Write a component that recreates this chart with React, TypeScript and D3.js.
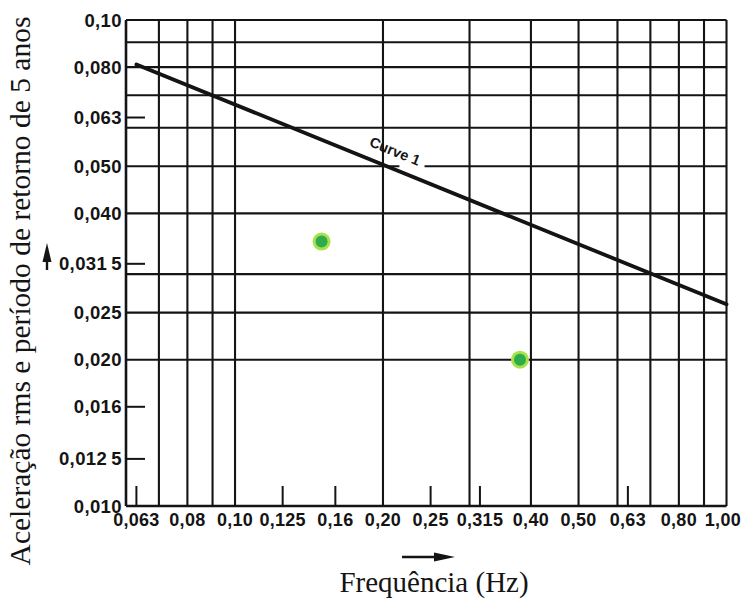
import React from "react";
import * as d3 from "d3";

// ---- data ----
const X_GRID = [0.06, 0.07, 0.08, 0.09, 0.1, 0.2, 0.3, 0.4, 0.5, 0.6, 0.7, 0.8, 0.9, 1.0];
const Y_GRID = [0.01, 0.02, 0.025, 0.03, 0.04, 0.05, 0.06, 0.07, 0.08, 0.09, 0.1];
const X_MINOR_TICKS = [0.063, 0.125, 0.16, 0.25, 0.315, 0.63];
const Y_MINOR_TICKS = [0.063, 0.0315, 0.016, 0.0125];
const X_TICK_VALUES = [0.063, 0.08, 0.1, 0.125, 0.16, 0.2, 0.25, 0.315, 0.4, 0.5, 0.63, 0.8, 1.0];
const X_TICK_LABELS = ["0,063", "0,08", "0,10", "0,125", "0,16", "0,20", "0,25", "0,315", "0,40", "0,50", "0,63", "0,80", "1,00"];
const Y_TICK_VALUES = [0.1, 0.08, 0.063, 0.05, 0.04, 0.0315, 0.025, 0.02, 0.016, 0.0125, 0.01];
const Y_TICK_LABELS = ["0,10", "0,080", "0,063", "0,050", "0,040", "0,031\u20095", "0,025", "0,020", "0,016", "0,012\u20095", "0,010"];
const CURVE_FREQ = [0.063, 1.0];
const CURVE_ACC = [0.081, 0.026];
const CURVE_LABEL = "Curve 1";
const CURVE_LABEL_FREQ = 0.2;
const POINT_FREQ = [0.15, 0.38];
const POINT_ACC = [0.035, 0.02];
const X_TITLE = "Frequência (Hz)";
const Y_TITLE = "Aceleração rms e período de retorno de 5 anos";

const W = 743;
const H = 601;
const PLOT = { left: 126, right: 726.5, top: 20, bottom: 506 };
const TICK_FONT = "'Liberation Sans', Arial, sans-serif";
const SERIF = "'Liberation Serif', 'Times New Roman', serif";
const INK = "#141414";

export default function App() {
  const x = d3.scaleLog().domain([0.06, 1.0]).range([PLOT.left, PLOT.right]);
  const y = d3.scaleLog().domain([0.01, 0.1]).range([PLOT.bottom, PLOT.top]);

  const curveData = CURVE_FREQ.map((f, i) => [f, CURVE_ACC[i]] as [number, number]);
  const line = d3
    .line<[number, number]>()
    .x((d) => x(d[0]))
    .y((d) => y(d[1]));

  // curve label placement
  const p0 = [x(CURVE_FREQ[0]), y(CURVE_ACC[0])];
  const p1 = [x(CURVE_FREQ[1]), y(CURVE_ACC[1])];
  const ang = (Math.atan2(p1[1] - p0[1], p1[0] - p0[0]) * 180) / Math.PI;
  const t = Math.log(CURVE_LABEL_FREQ / CURVE_FREQ[0]) / Math.log(CURVE_FREQ[1] / CURVE_FREQ[0]);
  const labelAcc = Math.exp(Math.log(CURVE_ACC[0]) + t * (Math.log(CURVE_ACC[1]) - Math.log(CURVE_ACC[0])));
  const lx = x(CURVE_LABEL_FREQ);
  const ly = y(labelAcc);

  const lastIdx = X_TICK_VALUES.length - 1;

  return (
    <svg
      width={W}
      height={H}
      style={{ position: "absolute", left: 0, top: 0, background: "#fff" }}
    >
      <rect width={W} height={H} fill="#fff" />
      {/* horizontal grid */}
      {Y_GRID.map((v) => (
        <line
          key={"h" + v}
          x1={PLOT.left}
          x2={PLOT.right}
          y1={y(v)}
          y2={y(v)}
          stroke={INK}
          strokeWidth={v === 0.01 ? 2.6 : 2.1}
        />
      ))}
      {/* vertical grid */}
      {X_GRID.map((v) => (
        <line
          key={"v" + v}
          x1={x(v)}
          x2={x(v)}
          y1={PLOT.top}
          y2={PLOT.bottom}
          stroke={INK}
          strokeWidth={v === 0.06 ? 2.6 : 2.1}
        />
      ))}
      {/* small gap in grid near label */}
      <rect x={x(0.216)} width={x(0.243) - x(0.216)} y={y(0.05) - 2} height={4} fill="#fff" />
      {/* minor ticks */}
      {X_MINOR_TICKS.map((v) => (
        <line key={"xt" + v} x1={x(v)} x2={x(v)} y1={PLOT.bottom} y2={PLOT.bottom - 20} stroke={INK} strokeWidth={2} />
      ))}
      {Y_MINOR_TICKS.map((v) => (
        <line key={"yt" + v} x1={PLOT.left} x2={PLOT.left + 19} y1={y(v)} y2={y(v)} stroke={INK} strokeWidth={2} />
      ))}
      {/* tick labels */}
      {X_TICK_VALUES.map((v, i) => (
        <text
          key={"xl" + v}
          x={i === lastIdx ? W - 2 : x(v)}
          y={PLOT.bottom + 20}
          textAnchor={i === lastIdx ? "end" : "middle"}
          fontFamily={TICK_FONT}
          fontWeight="bold"
          fontSize={18}
          letterSpacing={0.3}
          fill={INK}
        >
          {X_TICK_LABELS[i]}
        </text>
      ))}
      {Y_TICK_VALUES.map((v, i) => (
        <text
          key={"yl" + v}
          x={PLOT.left - 4}
          y={y(v) + 6.5}
          textAnchor="end"
          fontFamily={TICK_FONT}
          fontWeight="bold"
          fontSize={18.5}
          letterSpacing={0.4}
          fill={INK}
        >
          {Y_TICK_LABELS[i]}
        </text>
      ))}
      {/* curve */}
      <path d={line(curveData) || ""} fill="none" stroke={INK} strokeWidth={3.8} strokeLinecap="round" />
      <g transform={`translate(${lx},${ly}) rotate(${ang}) translate(6,-12)`}>
        <text
          x={0}
          y={0}
          textAnchor="middle"
          fontFamily={TICK_FONT}
          fontWeight="600"
          fontSize={14.5}
          fill={INK}
        >
          {CURVE_LABEL}
        </text>
      </g>
      {/* points */}
      {POINT_FREQ.map((f, i) => (
        <g key={"p" + i}>
          <circle cx={x(f)} cy={y(POINT_ACC[i])} r={9} fill="#a6e24c" />
          <circle cx={x(f)} cy={y(POINT_ACC[i])} r={6} fill="#2eac4b" />
        </g>
      ))}
      {/* axis titles */}
      <text
        transform={`translate(30,291) rotate(-90)`}
        textAnchor="middle"
        fontFamily={SERIF}
        fontSize={29.5}
        fill={INK}
      >
        {Y_TITLE}
      </text>
      <text x={434} y={592} textAnchor="middle" fontFamily={SERIF} fontSize={29} fill={INK}>
        {X_TITLE}
      </text>
      {/* arrows */}
      <line x1={47} x2={47} y1={270} y2={256} stroke={INK} strokeWidth={2.4} />
      <path d="M47,243 L51.5,262 L42.5,262 Z" fill={INK} />
      <line x1={402} x2={440} y1={557} y2={557} stroke={INK} strokeWidth={2.4} />
      <path d="M455,557 L434,552.5 L434,561.5 Z" fill={INK} />
    </svg>
  );
}
